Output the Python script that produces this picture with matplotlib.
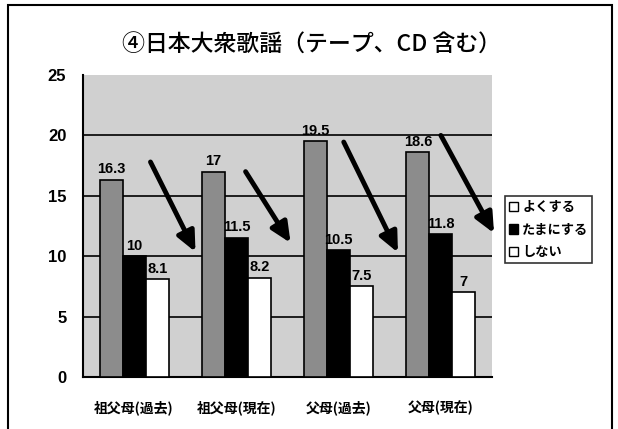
import matplotlib
matplotlib.use("Agg")
import matplotlib.pyplot as plt
import numpy as np
from matplotlib.patches import Rectangle, Patch
from matplotlib import font_manager

categories = ["祖父母(過去)", "祖父母(現在)", "父母(過去)", "父母(現在)"]
series_names = ["よくする", "たまにする", "しない"]
often = [16.3, 17, 19.5, 18.6]
sometimes = [10, 11.5, 10.5, 11.8]
never = [8.1, 8.2, 7.5, 7]
yticks = [0, 5, 10, 15, 20, 25]
title = "④日本大衆歌謡（テープ、CD 含む）"
# arrow start/end (offset from category center, value)
arrow_start = [(0.16, 17.8), (0.09, 17.0), (0.05, 19.45), (0.0, 20.0)]
arrow_end = [(0.60, 10.35), (0.53, 11.1), (0.58, 10.3), (0.52, 11.9)]

names = {f.name for f in font_manager.fontManager.ttflist}
narrow = "Liberation Sans Narrow" if "Liberation Sans Narrow" in names else "Liberation Sans"
cjk = "Noto Sans CJK JP"
num_family = [narrow, cjk, "DejaVu Sans"]
plt.rcParams["font.family"] = [cjk, "DejaVu Sans"]

fig = plt.figure(figsize=(6.18, 4.29), dpi=100)
fig.patch.set_facecolor("white")
# outer frame
fig.add_artist(Rectangle((8/618, -0.05), (612-8)/618, 1.05 - 5/429, transform=fig.transFigure,
                         fill=False, edgecolor="black", linewidth=1.5))

ax = fig.add_axes([83/618, 1-377/429, (492-83)/618, (377-75)/429])
ax.set_facecolor("#d0d0d0")
x = np.arange(len(categories))
w = 0.225
colors = ["#8c8c8c", "black", "white"]
data = [often, sometimes, never]
for i, (vals, c) in enumerate(zip(data, colors)):
    bars = ax.bar(x + (i-1)*w, vals, w, color=c, edgecolor="black", linewidth=1.2,
                  zorder=3, label=series_names[i])
    for b, v in zip(bars, vals):
        ax.text(b.get_x()+b.get_width()/2, v+0.3, f"{v:g}", ha="center", va="bottom",
                fontsize=10.5, fontweight="bold", family=num_family, zorder=5)

for y in yticks[1:-1]:
    ax.axhline(y, color="black", linewidth=1.2, zorder=1)

for (sx, sy), (ex, ey), cx in zip(arrow_start, arrow_end, x):
    ax.annotate("", xy=(cx+ex, ey), xytext=(cx+sx, sy), annotation_clip=False,
                arrowprops=dict(arrowstyle="-|>,head_length=1.2,head_width=0.55",
                                color="black", lw=3.5, shrinkA=0, shrinkB=0), zorder=6)

ax.set_xlim(-0.5, 3.5)
ax.set_ylim(0, 25)
ax.set_yticks(yticks)
ax.set_yticklabels([str(t) for t in yticks], fontsize=12, fontweight="bold", family=num_family)
ax.set_xticks(x)
ax.set_xticklabels(categories, fontsize=10, fontweight="bold")
ax.tick_params(axis="y", length=0, pad=12)
ax.tick_params(axis="x", length=0, pad=17)
for s in ["top", "right"]:
    ax.spines[s].set_visible(False)
ax.spines["left"].set_linewidth(1.5)
ax.spines["bottom"].set_linewidth(1.5)

fig.text(312/618, 1-45/429, title, ha="center", va="center", fontsize=16.5, fontweight="medium")

handles = [Patch(facecolor="white", edgecolor="black"),
           Patch(facecolor="black", edgecolor="black"),
           Patch(facecolor="white", edgecolor="black")]
leg = fig.legend(handles, series_names, loc="upper left", bbox_to_anchor=(505/618, 1-196/429),
                 frameon=True, fancybox=False, edgecolor="black", fontsize=9.5,
                 handlelength=0.7, handleheight=0.7, handletextpad=0.3,
                 borderpad=0.3, labelspacing=0.65, borderaxespad=0)
leg.get_frame().set_linewidth(1.2)
for t in leg.get_texts():
    t.set_fontweight("bold")

fig.savefig("out.png", dpi=100)
